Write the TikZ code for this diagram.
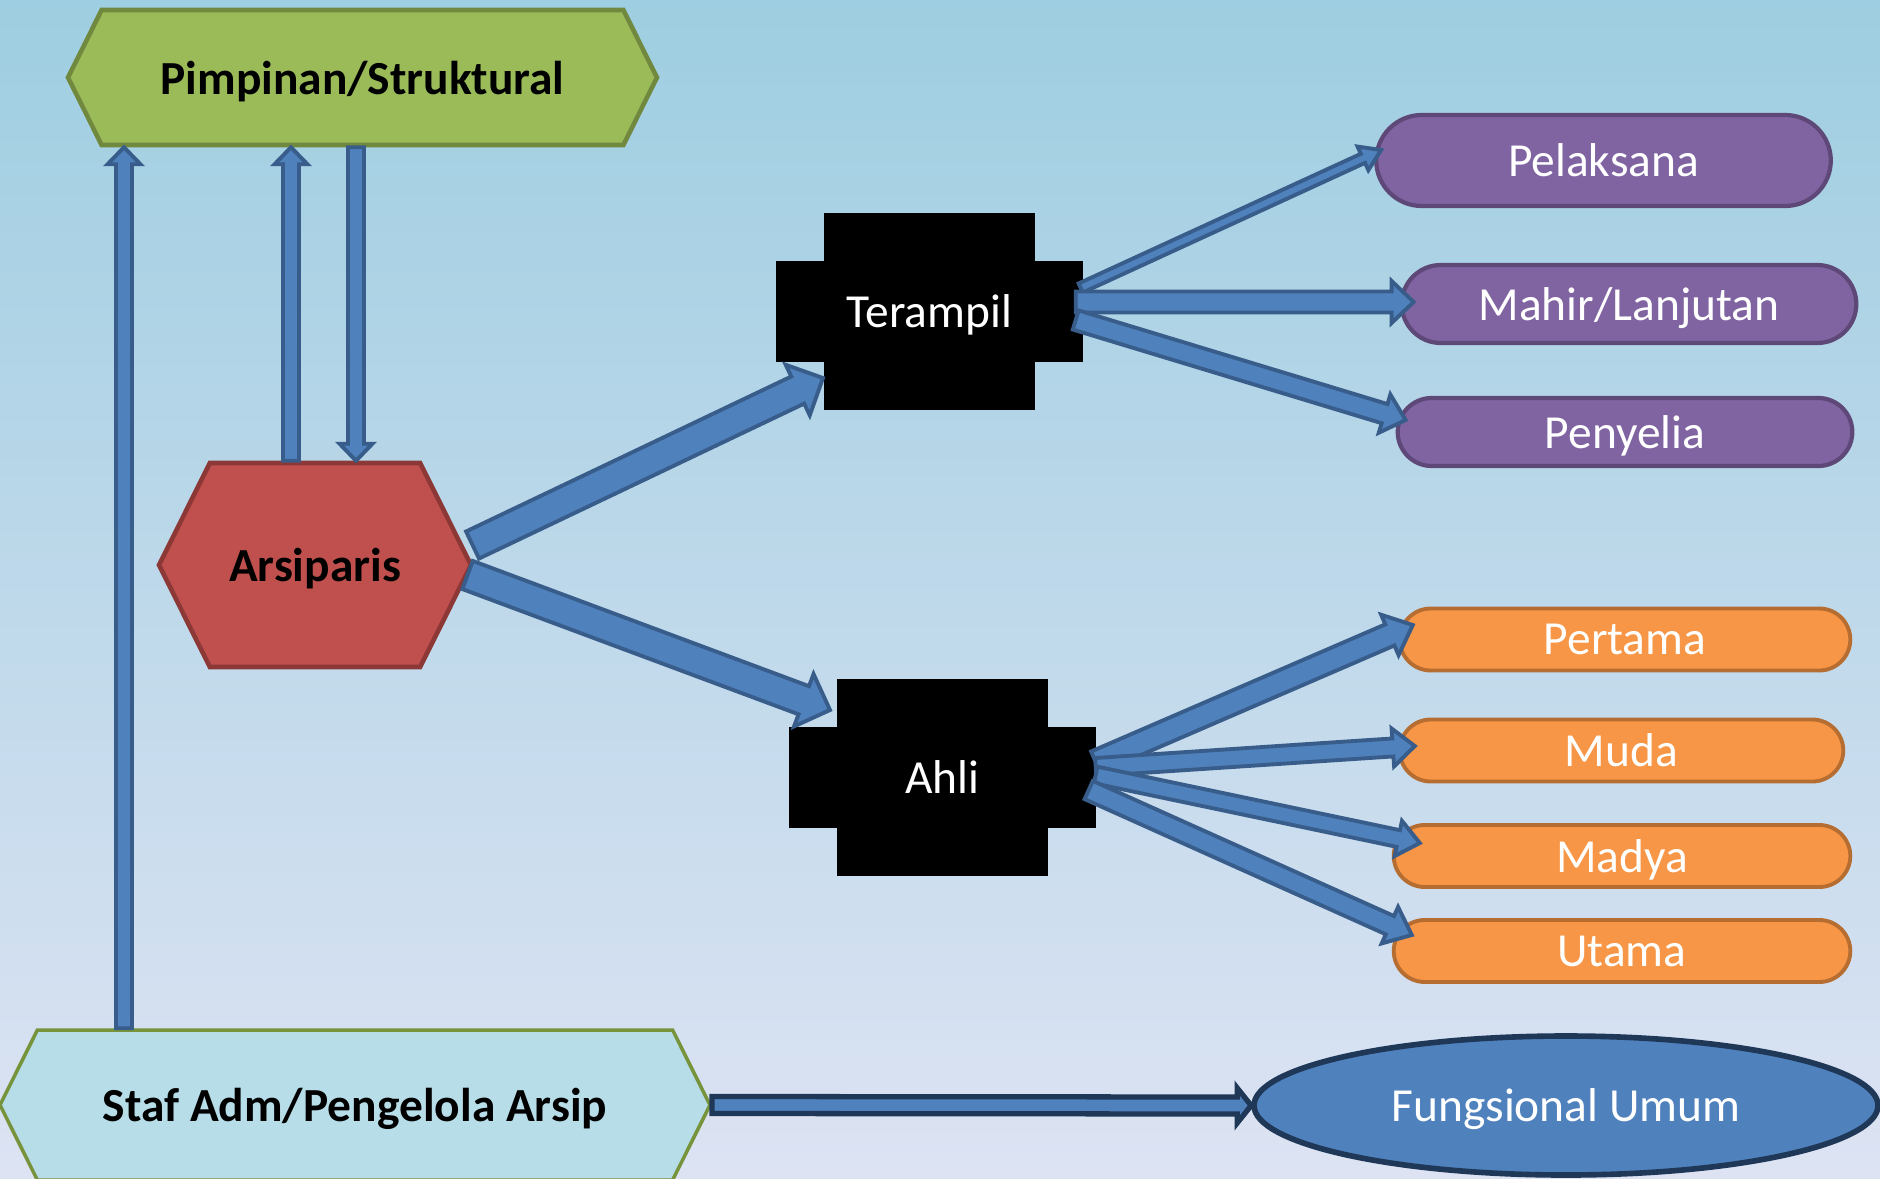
\documentclass[tikz,border=0pt]{standalone}
\usepackage{fontspec}
\setmainfont{Carlito}
\usetikzlibrary{calc,shapes.geometric,shapes.symbols,shapes.misc}

\definecolor{bgtop}{RGB}{158,206,225}
\definecolor{bgmid}{RGB}{186,207,234}
\definecolor{bgbot}{RGB}{221,227,243}
\definecolor{arrowfill}{RGB}{79,129,189}
\definecolor{arrowline}{RGB}{56,93,138}
\definecolor{navyline}{RGB}{31,56,88}
\definecolor{pimfill}{RGB}{155,187,89}
\definecolor{pimline}{RGB}{113,137,63}
\definecolor{arsfill}{RGB}{192,80,77}
\definecolor{arsline}{RGB}{140,56,54}
\definecolor{staffill}{RGB}{183,221,232}
\definecolor{stafline}{RGB}{119,147,60}
\definecolor{purplefill}{RGB}{128,100,162}
\definecolor{purpleline}{RGB}{94,72,120}
\definecolor{orangefill}{RGB}{247,150,70}
\definecolor{orangeline}{RGB}{182,109,49}

\tikzset{
	arrowbox/.style={fill=arrowfill, draw=arrowline, line width=1.1pt, line join=miter},
	labelfont/.style={font=\fontsize{13.5}{16}\selectfont, text depth=0pt},
}

% block arrow: [style]{from}{to}{half shaft}{half head}{head length}
\newcommand{\blockarrow}[6][]{%
	\path (#2) coordinate (ba-a) (#3) coordinate (ba-b);
	\path ($(ba-b)!#6!(ba-a)$) coordinate (ba-n);
	\filldraw[arrowbox,#1] ($(ba-a)!#4!90:(ba-b)$) -- ($(ba-n)!#4!90:(ba-b)$) -- ($(ba-n)!#5!90:(ba-b)$) -- (ba-b)
		-- ($(ba-n)!#5!-90:(ba-b)$) -- ($(ba-n)!#4!-90:(ba-b)$) -- ($(ba-a)!#4!-90:(ba-b)$) -- cycle;
}

\begin{document}
\begin{tikzpicture}[
		hexbox/.style={signal, signal to=west and east, signal from=nowhere, signal pointer angle=127, labelfont, font=\fontsize{13.5}{16}\selectfont\bfseries},
		hexgreen/.style={hexbox, fill=pimfill, draw=pimline, line width=1.3pt, minimum width=5.89cm, minimum height=1.35cm},
		hexred/.style={hexbox, fill=arsfill, draw=arsline, line width=1.3pt, minimum width=3.12cm, minimum height=2.04cm},
		hexstaf/.style={hexbox, fill=staffill, draw=stafline, line width=1pt, minimum width=7.1cm, minimum height=1.5cm},
		crossbox/.style={labelfont, text=white, inner sep=0pt, minimum width=3.07cm, minimum height=1.97cm,
			path picture={
				\fill[black] ($(path picture bounding box.west)+(0,.505)$) rectangle ($(path picture bounding box.east)+(0,-.505)$);
				\fill[black] ($(path picture bounding box.north)+(-1.055,0)$) rectangle ($(path picture bounding box.south)+(1.055,0)$);
			}},
		pillpurple/.style={rounded rectangle, labelfont, text=white, fill=purplefill, draw=purpleline, line width=1.2pt, minimum width=4.78cm},
		pillorange/.style={rounded rectangle, labelfont, text=white, fill=orangefill, draw=orangeline, line width=1.1pt, minimum width=4.74cm, minimum height=.62cm, inner ysep=1pt},
		ovalblue/.style={ellipse, labelfont, text=white, fill=arrowfill, draw=navyline, line width=1.6pt, minimum width=6.24cm, minimum height=1.39cm},
	]
	\useasboundingbox (0,0) rectangle (18.8,-11.78);
	\shade[top color=bgtop, middle color=bgmid, bottom color=bgbot] (0,0) rectangle (18.8,-11.78);

	\node (pimpinan)[hexgreen] at (3.625,-0.775) {Pimpinan/Struktural};
	\node (arsip)[hexred] at (3.15,-5.65) {Arsiparis};
	\node (staf)[hexstaf] at (3.55,-11.05) {Staf Adm/Pengelola Arsip};

	\node (terampil)[crossbox] at (9.295,-3.115) {Terampil};
	\node (ahli)[crossbox] at (9.425,-7.77) {Ahli};

	\node (pelaksana)[pillpurple, minimum height=.91cm] at (16.035,-1.605) {Pelaksana};
	\node (mahir)[pillpurple, minimum height=.78cm] at (16.29,-3.04) {Mahir/Lanjutan};
	\node (penyelia)[pillpurple, minimum height=.68cm] at (16.25,-4.32) {Penyelia};

	\node (pertama)[pillorange] at (16.25,-6.395) {Pertama};
	\node (muda)[pillorange, minimum width=4.67cm] at (16.215,-7.505) {Muda};
	\node (madya)[pillorange, minimum width=4.8cm] at (16.22,-8.56) {Madya};
	\node (utama)[pillorange, minimum width=4.8cm] at (16.22,-9.51) {Utama};

	\node (fungsi)[ovalblue] at (15.66,-11.055) {Fungsional Umum};

	% up and down
	\blockarrow{$(staf.north)+(-2.31,0)$}{$(pimpinan.south)+(-2.385,0)$}{.08cm}{.165cm}{.17cm}
	\blockarrow{$(arsip.north)+(-.24,0)$}{$(pimpinan.south)+(-.715,0)$}{.08cm}{.165cm}{.17cm}
	\blockarrow{$(pimpinan.south)+(-.065,0)$}{$(arsip.north)+(.41,0)$}{.08cm}{.165cm}{.17cm}

	% arsiparis
	\blockarrow{$(arsip.east)+(-.01,.2)$}{$(terampil.center)+(-1.065,-.665)$}{.15cm}{.28cm}{.28cm}
	\blockarrow{$(arsip.east)+(-.06,-.1)$}{$(ahli.center)+(-1.125,.67)$}{.15cm}{.28cm}{.28cm}

	% terampil
	\blockarrow{$(terampil.east)+(-.03,.235)$}{$(pelaksana.west)+(.07,.105)$}{.05cm}{.13cm}{.2cm}
	\blockarrow{$(terampil.east)+(-.08,.095)$}{$(mahir.west)+(.14,.02)$}{.105cm}{.21cm}{.22cm}
	\blockarrow{$(terampil.east)+(-.08,-.085)$}{$(penyelia.west)+(.1,.12)$}{.1cm}{.2cm}{.22cm}

	% ahli
	\blockarrow{$(ahli.east)+(-.01,.15)$}{$(pertama.west)+(.15,.145)$}{.115cm}{.22cm}{.25cm}
	\blockarrow{$(ahli.east)+(-.01,.1)$}{$(muda.west)+(.17,.045)$}{.09cm}{.19cm}{.22cm}
	\blockarrow{$(ahli.east)+(-.01,.02)$}{$(madya.west)+(.28,.13)$}{.085cm}{.18cm}{.22cm}
	\blockarrow{$(ahli.east)+(-.08,-.13)$}{$(utama.west)+(.2,.16)$}{.1cm}{.2cm}{.24cm}

	% staf
	\blockarrow[draw=navyline, line width=1.5pt]{staf.east}{fungsi.west}{.085cm}{.175cm}{.14cm}
\end{tikzpicture}
\end{document}
